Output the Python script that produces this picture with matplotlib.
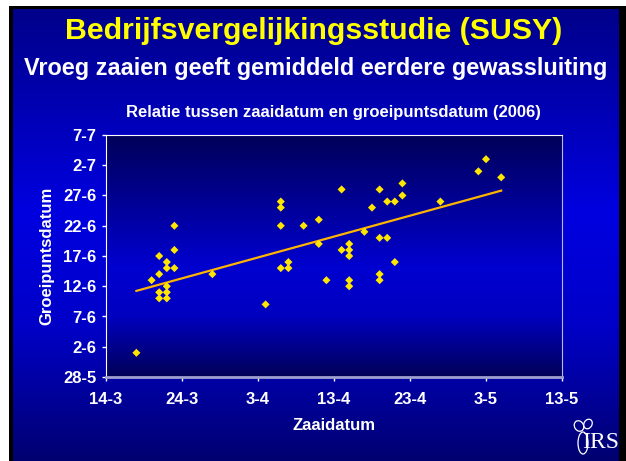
import numpy as np
import matplotlib
matplotlib.use("Agg")
import matplotlib.pyplot as plt
from matplotlib.colors import LinearSegmentedColormap
from matplotlib.patches import Rectangle, Ellipse

plt.rcParams['font.family'] = ['Liberation Sans', 'DejaVu Sans']

# ---- data (day of year 2006) ----
zaaidatum = [77, 79, 80, 80, 80, 80, 81, 81, 81, 81, 81, 82, 82, 82, 87, 94,
             96, 96, 96, 96, 97, 97, 99, 101, 101, 102, 104, 104, 105, 105, 105,
             105, 105, 107, 108, 109, 109, 109, 109, 110, 110, 111, 111, 112,
             112, 117, 122, 123, 125]
groeipuntsdatum = [152, 164, 168, 165, 162, 161, 167, 166, 163, 162, 161, 173,
                   169, 166, 165, 160, 177, 176, 173, 166, 167, 166, 173, 174,
                   170, 164, 179, 169, 170, 169, 168, 164, 163, 172, 176, 179,
                   171, 165, 164, 177, 171, 177, 167, 180, 178, 177, 182, 184,
                   181]
x_ticks = [73, 83, 93, 103, 113, 123, 133]
x_labels = ["14-3", "24-3", "3-4", "13-4", "23-4", "3-5", "13-5"]
y_ticks = [148, 153, 158, 163, 168, 173, 178, 183, 188]
y_labels = ["28-5", "2-6", "7-6", "12-6", "17-6", "22-6", "27-6", "2-7", "7-7"]

W, H = 626, 461
fig = plt.figure(figsize=(W / 100, H / 100), dpi=100)
fig.patch.set_facecolor('white')

# ---- slide background ----
bg = fig.add_axes([0, 0, 1, 1], zorder=-10)
bg.set_xlim(0, W)
bg.set_ylim(H, 0)
bg.axis('off')
bg.add_patch(Rectangle((9, 6), W - 9, H - 6, facecolor='black', edgecolor='none'))
slide_cmap = LinearSegmentedColormap.from_list(
    'slide', [(0.0, '#00008a'), (0.45, '#0000e0'), (0.7, '#0000c8'), (1.0, '#000070')])
grad = np.linspace(0, 1, 256).reshape(-1, 1)
bg.imshow(grad, cmap=slide_cmap, extent=[13, 619, H, 10], aspect='auto', zorder=1)

# simple beet logo outline
bg.add_patch(Ellipse((583, 443), 10, 22, facecolor='none', edgecolor='white', lw=0.9, zorder=3))
bg.add_patch(Ellipse((579, 426), 9, 11, angle=-30, facecolor='none', edgecolor='white', lw=0.9, zorder=3))
bg.add_patch(Ellipse((588, 424), 8, 10, angle=30, facecolor='none', edgecolor='white', lw=0.9, zorder=3))

# ---- titles ----
fig.text(313.5 / W, 1 - 31 / H, "Bedrijfsvergelijkingsstudie (SUSY)", color='#ffff00',
         fontsize=21.8, fontweight='bold', ha='center', va='center')
fig.text(316 / W, 1 - 68 / H, "Vroeg zaaien geeft gemiddeld eerdere gewassluiting",
         color='white', fontsize=16.9, fontweight='bold', ha='center', va='center')
fig.text(333 / W, 1 - 113 / H, "Relatie tussen zaaidatum en groeipuntsdatum (2006)",
         color='white', fontsize=12, fontweight='bold', ha='center', va='center')

# ---- main axes ----
x0, x1, y0, y1 = 106, 562, 135, 377
ax = fig.add_axes([x0 / W, 1 - y1 / H, (x1 - x0) / W, (y1 - y0) / H])
ax.set_xlim(73, 133)
ax.set_ylim(148, 188)
plot_cmap = LinearSegmentedColormap.from_list(
    'plot', [(0.0, '#000058'), (0.55, '#0000d0'), (0.75, '#0000c0'), (1.0, '#000058')])
ax.imshow(grad, cmap=plot_cmap, extent=[73, 133, 148, 188], aspect='auto', zorder=0)

ax.scatter(zaaidatum, groeipuntsdatum, marker='D', s=17, color='#ffe600',
           edgecolors='none', zorder=3)

coef = np.polyfit(zaaidatum, groeipuntsdatum, 1)
xl = np.array([min(zaaidatum), max(zaaidatum)])
ax.plot(xl, np.polyval(coef, xl), color='#ffb400', lw=1.6, zorder=2)

ax.set_xticks(x_ticks)
ax.set_xticklabels(x_labels)
ax.set_yticks(y_ticks)
ax.set_yticklabels(y_labels)
for lab in ax.get_xticklabels() + ax.get_yticklabels():
    lab.set_fontweight('bold')
ax.tick_params(axis='both', colors='white', labelsize=12, length=3, width=1)
ax.tick_params(axis='x', pad=8)
ax.tick_params(axis='y', pad=4)
ax.spines['left'].set_color('white')
ax.spines['top'].set_color('white')
ax.spines['right'].set_color('#b8b8e8')
ax.spines['bottom'].set_color('#a0a0d0')
ax.spines['bottom'].set_linewidth(2)
ax.set_xlabel("Zaaidatum", color='white', fontsize=12, fontweight='bold', labelpad=8)
ax.set_ylabel("Groeipuntsdatum", color='white', fontsize=12, fontweight='bold', labelpad=6)

# ---- logo text ----
fig.text(601 / W, 1 - 442 / H, "IRS", color='white', fontsize=17,
         family=['Liberation Serif', 'DejaVu Serif'], ha='center', va='center')

fig.savefig("out.png", dpi=100)
